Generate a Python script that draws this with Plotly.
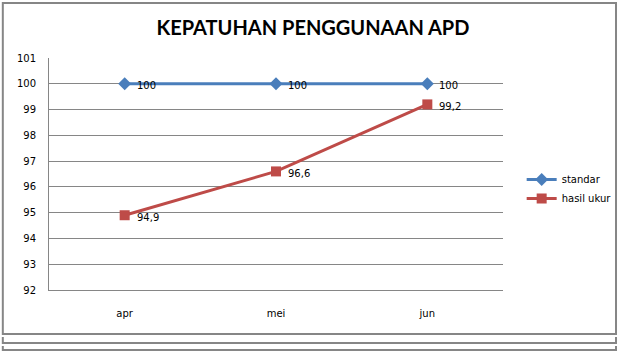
import plotly.graph_objects as go

categories = ["apr", "mei", "jun"]
standar = [100, 100, 100]
hasil_ukur = [94.9, 96.6, 99.2]
standar_labels = ["100", "100", "100"]
hasil_labels = ["94,9", "96,6", "99,2"]
y_ticks = [92, 93, 94, 95, 96, 97, 98, 99, 100, 101]

W, H = 629, 352
L, R, T, B = 49, 511, 58, 290

def px(x):
    return (x - L) / (R - L)

def py(y):
    return (B - y) / (B - T)

fig = go.Figure()
fig.add_trace(go.Scatter(
    x=categories, y=standar, name="standar", mode="lines+markers",
    line=dict(color="#4A7EBB", width=3),
    marker=dict(symbol="diamond", size=10, color="#4A7EBB"),
))
fig.add_trace(go.Scatter(
    x=categories, y=hasil_ukur, name="hasil ukur", mode="lines+markers",
    line=dict(color="#BE4B48", width=3),
    marker=dict(symbol="square", size=10, color="#BE4B48"),
))

annotations = []
for xs, ys, labels in [(categories, standar, standar_labels),
                       (categories, hasil_ukur, hasil_labels)]:
    for xv, yv, t in zip(xs, ys, labels):
        annotations.append(dict(
            x=xv, y=yv, xref="x", yref="y", text=t, showarrow=False,
            xanchor="left", yanchor="middle", xshift=10, yshift=-2,
            font=dict(family="DejaVu Sans", size=10, color="#000000")))

gray = "#868686"
shapes = [
    dict(type="rect", xref="paper", yref="paper",
         x0=px(2), x1=px(626), y0=py(3), y1=py(334),
         line=dict(color=gray, width=2), layer="below"),
    dict(type="path", xref="paper", yref="paper",
         path=f"M {px(2)} {py(337)} L {px(2)} {py(343)} L {px(626)} {py(343)} L {px(626)} {py(337)}",
         line=dict(color=gray, width=2)),
    dict(type="path", xref="paper", yref="paper",
         path=f"M {px(2)} {py(346)} L {px(2)} {py(350)} L {px(626)} {py(350)} L {px(626)} {py(346)}",
         line=dict(color=gray, width=2)),
]

fig.update_layout(
    width=W, height=H,
    margin=dict(l=L, r=W - R, t=T, b=H - B, pad=0),
    paper_bgcolor="white", plot_bgcolor="white",
    title=dict(text="<b>KEPATUHAN PENGGUNAAN APD</b>",
               font=dict(family="Lato", size=20, color="#000000"),
               x=313 / W, xanchor="center", y=1 - 28 / H, yanchor="middle"),
    showlegend=True,
    legend=dict(x=px(530), y=py(189), xanchor="left", yanchor="middle",
                font=dict(family="DejaVu Sans", size=10, color="#000000"),
                bgcolor="rgba(0,0,0,0)", itemwidth=30, tracegroupgap=9),
    shapes=shapes,
    annotations=annotations,
    xaxis=dict(type="category", range=[-0.5, 2.5], showgrid=False,
               showline=True, linecolor=gray, linewidth=1,
               ticks="", ticklabelstandoff=14,
               tickfont=dict(family="DejaVu Sans", size=10, color="#000000"),
               fixedrange=True),
    yaxis=dict(range=[92, 101], tickvals=y_ticks, showgrid=True,
               gridcolor=gray, gridwidth=1, showline=True, linecolor=gray,
               linewidth=1, ticks="", ticklabelstandoff=10, zeroline=False,
               tickfont=dict(family="DejaVu Sans", size=10, color="#000000"),
               fixedrange=True),
)

fig.write_html("out.html")
